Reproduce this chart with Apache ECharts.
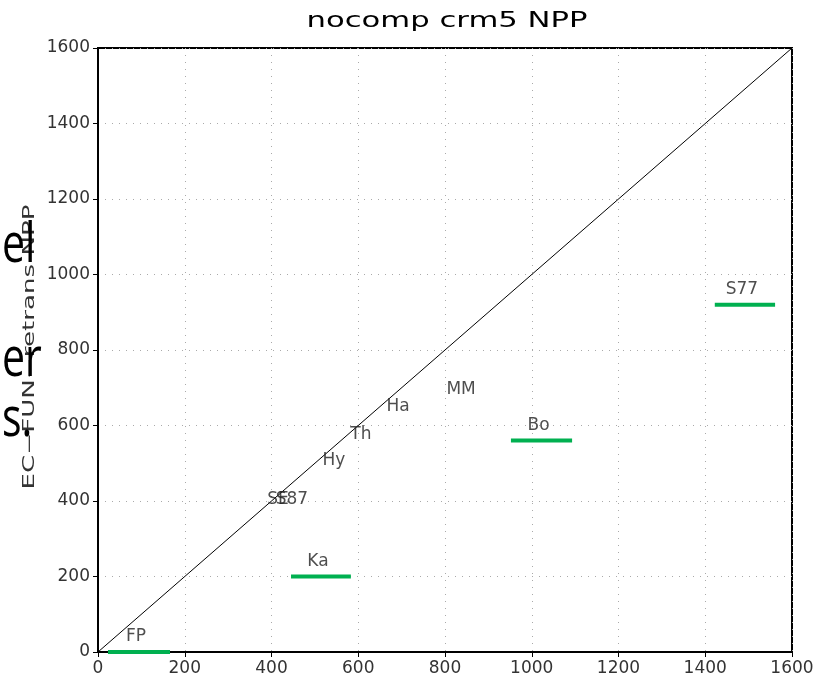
<!DOCTYPE html>
<html><head><meta charset="utf-8">
<script src="https://cdn.jsdelivr.net/npm/echarts@6/dist/echarts.min.js"></script>
<style>html,body{margin:0;padding:0;background:#fff}#c{width:830px;height:678px}</style>
</head><body><div id="c"></div>
<script>
// Text-only sites (label drawn at model/obs position)
const pointNames = ['MM','Ha','Th','Hy','SE','S87'];
const pointX = [837, 692, 606, 544, 415, 447];
const pointY = [694, 649, 575, 506, 403, 403];
// Sites with observed range bars (green)
const barNames = ['FP','Ka','Bo','S77'];
const barXMin = [23, 445, 952, 1422];
const barXMax = [166, 583, 1093, 1561];
const barY = [0, 200, 560, 920];
// 1:1 line
const oneToOne = [[0,0],[1600,1600]];
const titleText = 'nocomp crm5 NPP';
const yName = 'EC\u2212FUN\u2212retrans NPP';

const cv = document.createElement('canvas').getContext('2d');
function textW(t, font){ cv.font = font; return cv.measureText(t).width; }
const titleFont = '22px "DejaVu Sans"';
const yNameFont = '15px "DejaVu Sans"';
const titleScale = 281 / textW(titleText, titleFont);
const yNameScale = 285 / textW(yName, yNameFont);

const chart = echarts.init(document.getElementById('c'));
const labelFont = {fontFamily:'DejaVu Sans', fontSize:17, color:'#222'};
const series = [];
series.push({type:'line', data:oneToOne, symbol:'none', lineStyle:{color:'#000', width:1}, z:3, silent:true});
barNames.forEach((n,i)=>{
  series.push({type:'line', data:[[barXMin[i],barY[i]],[barXMax[i],barY[i]]], symbol:'none',
    lineStyle:{color:'#00b050', width:4}, z:4, silent:true, clip:false});
});
series.push({type:'scatter', symbolSize:0, z:5, silent:true,
  data: barNames.map((n,i)=>({name:n, value:[(barXMin[i]+barXMax[i])/2, barY[i]]})),
  label:{show:true, position:'inside', formatter:'{b}', offset:[-3,-15], ...labelFont}});
series.push({type:'scatter', symbolSize:0, z:5, silent:true,
  data: pointNames.map((n,i)=>({name:n, value:[pointX[i], pointY[i]]})),
  label:{show:true, position:'inside', formatter:'{b}', ...labelFont}});

const axisCommon = {type:'value', min:0, max:1600, interval:200,
  axisLine:{show:true, lineStyle:{color:'#000', width:2}},
  axisTick:{show:true, inside:false, length:5, lineStyle:{color:'#000', width:1}},
  axisLabel:{fontFamily:'DejaVu Sans', fontSize:17, color:'#333', margin:8, formatter:v=>String(v)},
  splitLine:{show:true, lineStyle:{color:'#aaa', width:1, type:[1,6]}}};

chart.setOption({
  animation:false,
  backgroundColor:'#fff',
  grid:{left:98, right:38, top:48, bottom:26, show:true, borderColor:'#000', borderWidth:2, backgroundColor:'transparent'},
  xAxis:Object.assign({}, axisCommon),
  yAxis:Object.assign({}, axisCommon),
  graphic:[
    {type:'text', x:447, y:21, scaleX:titleScale, z:100,
      style:{text:titleText, font:titleFont, fill:'#000', textAlign:'center', textVerticalAlign:'middle'}},
    {type:'text', x:30, y:347, rotation:Math.PI/2, scaleX:yNameScale, z:90,
      style:{text:yName, font:yNameFont, fill:'#333', textAlign:'center', textVerticalAlign:'middle'}},
    {type:'text', x:2, y:220, scaleX:0.76, z:100, style:{text:'el', font:'54px "Open Sans"', fill:'#000'}},
    {type:'text', x:2, y:334, scaleX:0.76, z:100, style:{text:'er', font:'54px "Open Sans"', fill:'#000'}},
    {type:'text', x:2, y:394, scaleX:0.76, z:100, style:{text:'s.', font:'54px "Open Sans"', fill:'#000'}}
  ],
  series: series
});
</script></body></html>
